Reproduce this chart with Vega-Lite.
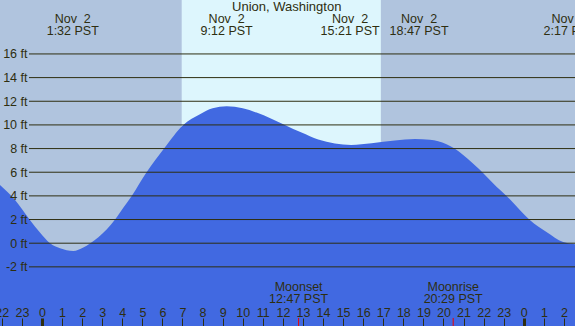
{
  "$schema": "https://vega.github.io/schema/vega-lite/v6.json",
  "width": 575,
  "height": 326,
  "padding": 0,
  "autosize": {"type": "none"},
  "config": {
    "view": {"fill": "#b0c4de", "stroke": null},
    "font": "Liberation Sans"
  },
  "resolve": {"axis": {"x": "independent", "y": "independent"}},
  "datasets": {
    "tide": [
      {"h": -2.09, "ft": 4.93},
      {"h": -1.34, "ft": 3.66},
      {"h": -0.6, "ft": 1.97},
      {"h": -0.1, "ft": 0.9},
      {"h": 0.4, "ft": 0.0},
      {"h": 0.9, "ft": -0.42},
      {"h": 1.56, "ft": -0.65},
      {"h": 2.06, "ft": -0.36},
      {"h": 2.39, "ft": -0.02},
      {"h": 2.81, "ft": 0.5},
      {"h": 3.22, "ft": 1.15},
      {"h": 3.64, "ft": 2.0},
      {"h": 4.05, "ft": 3.0},
      {"h": 4.47, "ft": 4.0},
      {"h": 5.21, "ft": 6.0},
      {"h": 6.08, "ft": 8.0},
      {"h": 7.04, "ft": 10.0},
      {"h": 7.87, "ft": 10.9},
      {"h": 8.5, "ft": 11.4},
      {"h": 9.2, "ft": 11.57},
      {"h": 10.0, "ft": 11.4},
      {"h": 10.69, "ft": 11.04},
      {"h": 11.4, "ft": 10.55},
      {"h": 12.1, "ft": 10.0},
      {"h": 12.93, "ft": 9.35},
      {"h": 13.76, "ft": 8.76},
      {"h": 14.59, "ft": 8.42},
      {"h": 15.4, "ft": 8.31},
      {"h": 16.42, "ft": 8.45},
      {"h": 17.58, "ft": 8.68},
      {"h": 18.58, "ft": 8.8},
      {"h": 19.32, "ft": 8.75},
      {"h": 20.15, "ft": 8.37},
      {"h": 20.55, "ft": 8.0},
      {"h": 20.98, "ft": 7.46},
      {"h": 21.4, "ft": 6.85},
      {"h": 21.81, "ft": 6.2},
      {"h": 22.64, "ft": 4.78},
      {"h": 23.14, "ft": 4.0},
      {"h": 23.47, "ft": 3.43},
      {"h": 24.3, "ft": 1.97},
      {"h": 25.13, "ft": 0.95},
      {"h": 25.96, "ft": 0.1},
      {"h": 26.55, "ft": -0.08}
    ],
    "grid": [
      {"v": -2}, {"v": 0}, {"v": 2}, {"v": 4}, {"v": 6},
      {"v": 8}, {"v": 10}, {"v": 12}, {"v": 14}, {"v": 16}
    ],
    "daylight": [{"sunrise": 6.96, "sunset": 16.88}],
    "extremes": [
      {"h": 1.533, "label": "Nov\u00a0\u00a02\n1:32 PST"},
      {"h": 9.2, "label": "Nov\u00a0\u00a02\n9:12 PST"},
      {"h": 15.35, "label": "Nov\u00a0\u00a02\n15:21 PST"},
      {"h": 18.783, "label": "Nov\u00a0\u00a02\n18:47 PST"},
      {"h": 26.283, "label": "Nov\u00a0\u00a02\n2:17 PST"}
    ],
    "moon": [
      {"h": 12.783, "label": "Moonset\n12:47 PST"},
      {"h": 20.483, "label": "Moonrise\n20:29 PST"}
    ]
  },
  "layer": [
    {
      "data": {"name": "daylight"},
      "mark": {"type": "rect", "color": "#ddf6fd"},
      "encoding": {
        "x": {
          "field": "sunrise", "type": "quantitative",
          "scale": {"domain": [-2.09, 26.55], "nice": false, "zero": false},
          "axis": {
            "orient": "bottom", "offset": -8, "title": null, "zindex": 2,
            "values": [-2,-1,0,1,2,3,4,5,6,7,8,9,10,11,12,13,14,15,16,17,18,19,20,21,22,23,24,25,26],
            "labelExpr": "(datum.value % 24 + 24) % 24",
            "domain": false, "grid": false,
            "tickSize": 8, "tickColor": "#2e2e10",
            "tickWidth": {"condition": {"test": "datum.value % 24 == 0", "value": 3}, "value": 1},
            "labelPadding": -19.5, "labelBaseline": "top",
            "labelFlush": false, "labelOverlap": false, "labelBound": false,
            "labelFontSize": 12.5, "labelColor": "#2e2e10", "labelFont": "Liberation Sans"
          }
        },
        "x2": {"field": "sunset"},
        "y": {
          "datum": -7, "type": "quantitative",
          "scale": {"domain": [-7, 20.56], "nice": false, "zero": false},
          "axis": {
            "orient": "left", "title": null, "zindex": 2,
            "values": [-2, 0, 2, 4, 6, 8, 10, 12, 14, 16],
            "labelExpr": "datum.value + ' ft'",
            "domain": false, "grid": false, "ticks": false, "tickSize": 0,
            "labelPadding": -27, "labelAlign": "right", "labelBaseline": "middle",
            "labelFlush": false, "labelOverlap": false, "labelBound": false,
            "labelFontSize": 12.5, "labelColor": "#2e2e10", "labelFont": "Liberation Sans"
          }
        },
        "y2": {"datum": 20.56}
      }
    },
    {
      "data": {"name": "tide"},
      "mark": {"type": "area", "color": "#4169e1", "interpolate": "monotone"},
      "encoding": {
        "x": {"field": "h", "type": "quantitative", "axis": null},
        "y": {"field": "ft", "type": "quantitative", "axis": null},
        "y2": {"datum": -7}
      }
    },
    {
      "data": {"name": "grid"},
      "mark": {"type": "rule", "color": "#2e2e10", "strokeWidth": 1},
      "encoding": {
        "x": {"datum": -0.646, "type": "quantitative", "axis": null},
        "x2": {"datum": 26.55},
        "y": {"field": "v", "type": "quantitative", "axis": null}
      }
    },
    {
      "data": {"name": "moon"},
      "mark": {"type": "rule", "color": "#ee0000", "strokeWidth": 1},
      "encoding": {
        "x": {"field": "h", "type": "quantitative", "axis": null},
        "y": {"datum": -6.32, "type": "quantitative", "axis": null},
        "y2": {"datum": -7}
      }
    },
    {
      "data": {"name": "moon"},
      "mark": {"type": "text", "lineBreak": "\n", "lineHeight": 12, "align": "center", "baseline": "alphabetic", "fontSize": 12.5, "color": "#2e2e10"},
      "encoding": {
        "x": {"field": "h", "type": "quantitative", "axis": null},
        "y": {"datum": -4.04, "type": "quantitative", "axis": null},
        "text": {"field": "label"}
      }
    },
    {
      "data": {"name": "extremes"},
      "mark": {"type": "text", "lineBreak": "\n", "lineHeight": 12, "align": "center", "baseline": "alphabetic", "fontSize": 12.5, "color": "#2e2e10"},
      "encoding": {
        "x": {"field": "h", "type": "quantitative", "axis": null},
        "y": {"datum": 18.59, "type": "quantitative", "axis": null},
        "text": {"field": "label"}
      }
    },
    {
      "data": {"values": [{"label": "Union, Washington"}]},
      "mark": {"type": "text", "align": "center", "baseline": "alphabetic", "fontSize": 13, "color": "#2e2e10"},
      "encoding": {
        "x": {"datum": 12.19, "type": "quantitative", "axis": null},
        "y": {"datum": 19.63, "type": "quantitative", "axis": null},
        "text": {"field": "label"}
      }
    }
  ]
}
